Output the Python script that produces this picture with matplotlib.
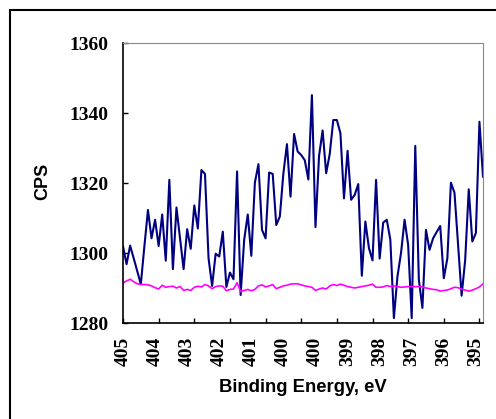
import numpy as np
import matplotlib
matplotlib.use("Agg")
import matplotlib.pyplot as plt
from matplotlib.patches import Rectangle

# binding energy, 405 -> 394.9 eV in 0.1 eV steps
energy = np.round(405 - 0.1*np.arange(102), 1)

cps_sample = [1301.9, 1296.8, 1302.1, 1298.5, 1294.8, 1291.1, 1301.9, 1312.3, 1304.2, 1309.5,
              1302.0, 1311.0, 1297.8, 1320.9, 1295.4, 1313.0, 1304.2, 1295.4, 1306.8, 1301.2,
              1313.6, 1307.0, 1323.7, 1322.6, 1298.5, 1290.6, 1299.8, 1299.0, 1306.1, 1290.3,
              1294.4, 1292.5, 1323.3, 1288.0, 1303.8, 1311.0, 1299.2, 1320.1, 1325.4, 1306.6,
              1304.2, 1323.0, 1322.6, 1308.0, 1310.4, 1322.8, 1331.1, 1316.1, 1334.0, 1329.0,
              1328.0, 1326.5, 1321.0, 1345.1, 1307.4, 1327.7, 1335.0, 1322.8, 1328.3, 1338.0,
              1338.0, 1334.2, 1315.6, 1329.2, 1315.2, 1316.6, 1319.7, 1293.5, 1309.0, 1301.4,
              1297.9, 1320.9, 1298.4, 1308.7, 1309.5, 1303.8, 1281.4, 1293.3, 1300.0, 1309.5,
              1302.3, 1281.4, 1330.6, 1292.4, 1284.3, 1306.6, 1300.9, 1304.2, 1306.0, 1307.7,
              1292.8, 1298.5, 1320.1, 1317.2, 1302.5, 1287.8, 1298.0, 1318.2, 1303.3, 1305.7,
              1337.5, 1321.8]

cps_background = [1291.5, 1292.0, 1292.5, 1291.8, 1291.2, 1291.0, 1291.0, 1290.9, 1290.6, 1290.1,
                  1289.7, 1290.8, 1290.2, 1290.4, 1290.5, 1290.0, 1290.4, 1289.3, 1289.6, 1289.3,
                  1290.2, 1290.5, 1290.3, 1291.0, 1290.6, 1289.8, 1290.4, 1290.6, 1290.5, 1289.2,
                  1289.6, 1289.7, 1291.5, 1289.0, 1289.3, 1289.6, 1289.2, 1289.6, 1290.6, 1290.9,
                  1290.3, 1290.6, 1291.0, 1289.8, 1290.2, 1290.6, 1290.8, 1291.1, 1291.2, 1291.2,
                  1290.9, 1290.6, 1290.4, 1290.2, 1289.3, 1289.7, 1290.0, 1289.7, 1290.6, 1291.0,
                  1290.7, 1291.1, 1290.8, 1290.4, 1290.2, 1290.0, 1290.2, 1290.4, 1290.6, 1290.8,
                  1291.1, 1290.2, 1290.2, 1290.3, 1290.7, 1290.4, 1290.6, 1290.4, 1290.2, 1290.3,
                  1290.4, 1290.4, 1290.4, 1290.4, 1290.3, 1290.0, 1289.8, 1289.6, 1289.5, 1289.1,
                  1289.3, 1289.4, 1289.8, 1290.2, 1290.1, 1289.7, 1289.4, 1289.1, 1289.4, 1289.8,
                  1290.3, 1291.2]

y_ticks = [1280, 1300, 1320, 1340, 1360]

fig = plt.figure(figsize=(4.96, 4.19), dpi=100)
ax = fig.add_axes([123/496, 1-323/419, 360/496, 280/419])

ax.plot(energy, cps_sample, color="#000080", lw=1.5)
ax.plot(energy, cps_background, color="#ff00ff", lw=1.2)

ax.set_xlim(energy[0], energy[-1])
ax.set_ylim(1280, 1360)
ax.set_yticks(y_ticks)

# tick marks every 10 points, labels every 9 points (category axis)
ax.xaxis.remove_overlapping_locs = False
ax.set_xticks(energy[::10])
ax.set_xticklabels([])
ax.set_xticks(energy[::9], minor=True)
ax.set_xticklabels(["%.0f" % e for e in energy[::9]], minor=True, rotation=90)

ax.tick_params(axis="both", which="major", direction="in", length=3.6, width=1, color="black")
ax.tick_params(axis="x", which="minor", length=0, pad=10)
ax.tick_params(axis="y", which="major", pad=10.5)
for lab in ax.get_yticklabels() + ax.get_xticklabels(minor=True):
    lab.set_fontfamily("Liberation Serif")
    lab.set_fontweight("bold")
    lab.set_fontsize(14)

ax.spines["left"].set_color("black")
ax.spines["bottom"].set_color("black")
ax.spines["left"].set_linewidth(1.2)
ax.spines["bottom"].set_linewidth(1.2)
ax.spines["top"].set_color("#888888")
ax.spines["right"].set_color("#888888")

fig.text(43/496, 1-181/419, "CPS", rotation=90, ha="center", va="center",
         fontfamily="Liberation Sans", fontweight="bold", fontsize=13)
fig.text(303/496, 1-387/419, "Binding Energy, eV", ha="center", va="center",
         fontfamily="Liberation Sans", fontweight="bold", fontsize=13.3)

# outer chart border, runs off the right and bottom edges
fig.patches.append(Rectangle((10/496, -0.1), 1.2, 1-10/419+0.1, transform=fig.transFigure,
                             fill=False, edgecolor="black", lw=1.5))

fig.savefig("out.png", dpi=100)
